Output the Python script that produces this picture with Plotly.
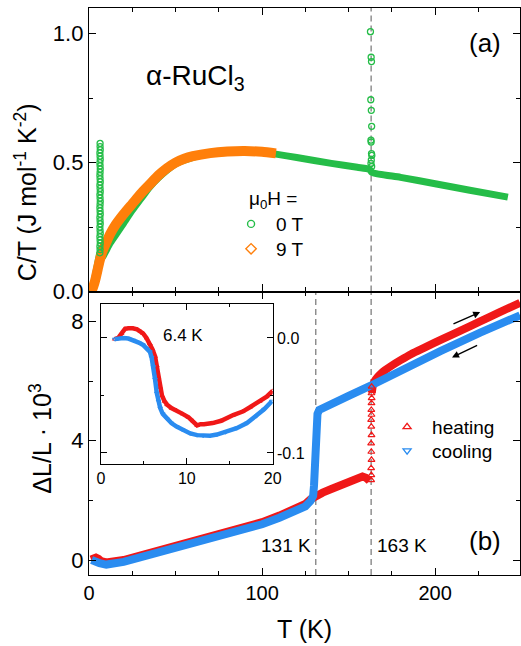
import plotly.graph_objects as go

# ---------------- data ----------------
# (a) C/T, 0 T (green) and 9 T (orange)
T_0T_low = [0.5, 1, 2, 3, 4, 5, 5.8, 6.2]
C_0T_low = [0.0, 0.005, 0.02, 0.04, 0.07, 0.10, 0.13, 0.15]
T_0T = [7.2, 8, 10, 12, 15, 20, 25, 30, 35, 40, 45, 50, 60, 70, 80, 90, 100, 108,
        120, 140, 155, 162, 163.5, 180, 200, 220, 242]
C_0T = [0.13, 0.135, 0.16, 0.185, 0.215, 0.265, 0.315, 0.36, 0.405, 0.44, 0.47, 0.495,
        0.52, 0.535, 0.54, 0.543, 0.54, 0.533, 0.52, 0.497, 0.482, 0.474, 0.462, 0.443,
        0.418, 0.393, 0.366]
T_0T_spike = [6.3, 6.4, 6.3, 6.5, 6.4, 6.3, 6.5, 6.4, 6.3, 6.5, 6.4, 6.3, 6.5, 6.4, 6.3, 6.4, 6.5,
              6.4, 6.3, 6.5, 6.4, 6.3, 6.5, 6.4, 6.3, 6.4, 6.5, 6.4, 6.3, 6.5, 6.4, 6.3, 6.5, 6.4, 6.4]
C_0T_spike = [0.15, 0.1625, 0.175, 0.1875, 0.2, 0.2125, 0.225, 0.2375, 0.25, 0.2625, 0.275,
              0.2875, 0.3, 0.3125, 0.325, 0.3375, 0.35, 0.3625, 0.375, 0.3875, 0.4, 0.4125,
              0.425, 0.4375, 0.45, 0.4625, 0.475, 0.4875, 0.5, 0.5125, 0.525, 0.5375, 0.55,
              0.5625, 0.575]
T_0T_peak = [162.6, 163.0, 163.2, 162.8, 163.1, 163.3, 162.9, 163.0, 163.2, 163.4, 163.1, 162.9, 163.3]
C_0T_peak = [1.008, 0.909, 0.892, 0.744, 0.703, 0.641, 0.587, 0.580, 0.535, 0.528, 0.51, 0.497, 0.485]
T_9T = [0.8, 2, 3, 4, 5, 6, 7, 8, 10, 12, 15, 20, 25, 30, 35, 40, 45, 50, 55, 60, 70, 80, 90, 100, 108]
C_9T = [0.0, 0.01, 0.03, 0.055, 0.085, 0.115, 0.14, 0.16, 0.19, 0.22, 0.255, 0.3, 0.34, 0.38,
        0.415, 0.45, 0.478, 0.5, 0.515, 0.525, 0.537, 0.543, 0.545, 0.542, 0.536]

# (b) dL/L * 10^3, heating (red) and cooling (blue)
T_heat_1 = [1.2, 2.5, 4, 5.5, 7, 10, 15, 20, 30, 40, 50, 60, 70, 80, 90, 100, 110, 120,
            125, 128, 131, 135, 140, 145, 150, 155, 158, 160, 162]
L_heat_1 = [0.02, 0.07, 0.08, 0.04, -0.04, -0.08, -0.06, 0.0, 0.16, 0.31, 0.48, 0.64, 0.8,
            0.96, 1.11, 1.27, 1.49, 1.72, 1.88, 2.04, 2.15, 2.26, 2.38, 2.5, 2.62, 2.74, 2.8, 2.76, 2.66]
T_heat_jump = [163.0, 163.1, 163.0, 163.2, 163.1, 163.0, 163.2, 163.1, 163.0, 163.2, 163.1,
               163.2, 163.3, 163.2, 163.3]
L_heat_jump = [2.68, 2.85, 3.08, 3.36, 3.63, 3.91, 4.19, 4.47, 4.70, 4.87, 5.03, 5.26, 5.43, 5.59, 5.81]
T_heat_2 = [163.4, 164.0, 165.0, 166.5, 168.5, 171, 175, 180, 186, 195, 205, 215, 226, 237, 249]
L_heat_2 = [5.6, 5.85, 6.0, 6.12, 6.24, 6.36, 6.52, 6.7, 6.9, 7.15, 7.43, 7.7, 8.0, 8.3, 8.62]
T_cool = [1.5, 3, 6, 10, 15, 20, 30, 40, 50, 60, 70, 80, 90, 100, 110, 120, 125, 128, 129.5,
          130, 130.5, 131, 131.5, 132, 133, 140, 150, 163, 180, 203, 226, 249]
L_cool = [0.0, -0.05, -0.1, -0.15, -0.13, -0.06, 0.1, 0.25, 0.42, 0.58, 0.74, 0.9, 1.05, 1.2,
          1.42, 1.65, 1.8, 1.98, 2.15, 2.5, 3.2, 4.0, 4.6, 4.9, 5.03, 5.25, 5.5, 5.85, 6.35,
          7.0, 7.62, 8.2]

# inset
Ti_heat = [1.6, 2.0, 2.4, 2.8, 3.2, 3.7, 4.2, 4.6, 4.9, 5.3, 5.7, 6.0, 6.3, 6.5, 6.7, 6.9, 7.1,
           7.4, 7.7, 8.2, 8.8, 9.5, 10.2, 10.7, 11.2, 11.6, 12.0, 13.0, 14.0, 15.4, 16.5, 17.4,
           18.5, 19.3, 20.0]
Li_heat = [-0.001, 0.0, 0.004, 0.008, 0.0085, 0.0085, 0.0075, 0.006, 0.004, 0.0, -0.005, -0.010,
           -0.016, -0.024, -0.034, -0.043, -0.050, -0.055, -0.058, -0.061, -0.063, -0.066, -0.069,
           -0.072, -0.076, -0.075, -0.075, -0.074, -0.072, -0.067, -0.064, -0.060, -0.055, -0.051,
           -0.046]
Ti_cool = [1.6, 2.6, 3.2, 3.8, 4.4, 4.9, 5.3, 5.7, 5.9, 6.1, 6.3, 6.5, 6.7, 6.9, 7.2, 7.65, 8.2,
           8.8, 9.5, 10.4, 11.2, 11.9, 12.7, 13.5, 14.5, 15.8, 17.0, 18.1, 19.0, 19.9]
Li_cool = [-0.001, 0.0, -0.0005, -0.002, -0.004, -0.006, -0.009, -0.012, -0.017, -0.025, -0.036,
           -0.048, -0.055, -0.061, -0.066, -0.070, -0.074, -0.077, -0.080, -0.083, -0.0845,
           -0.085, -0.085, -0.084, -0.082, -0.0785, -0.074, -0.068, -0.062, -0.055]

T_transitions_a = [163]
T_transitions_b = [131, 163]
T_transition_inset = [6.4]
transition_labels_b = ["131 K", "163 K"]
inset_tickvals = [-0.1, 0.0]
inset_ticktext = ["-0.1", "0.0"]

# ---------------- style ----------------
GREEN = "#25bd48"
ORANGE = "#ff7f0a"
RED = "#f01818"
BLUE = "#2a8cf0"
FONT = "Liberation Sans, Arial, sans-serif"

fig = go.Figure()

# top panel
fig.add_trace(go.Scatter(x=T_0T_low, y=C_0T_low, mode="lines", line=dict(color=GREEN, width=7),
                         xaxis="x", yaxis="y", showlegend=False))
fig.add_trace(go.Scatter(x=T_0T, y=C_0T, mode="lines", line=dict(color=GREEN, width=7, shape="spline", smoothing=0.6),
                         xaxis="x", yaxis="y", showlegend=False))
fig.add_trace(go.Scatter(x=T_9T, y=C_9T, mode="lines", line=dict(color=ORANGE, width=10, shape="spline", smoothing=0.6),
                         xaxis="x", yaxis="y", showlegend=False))
fig.add_trace(go.Scatter(x=T_0T_spike, y=C_0T_spike, mode="markers",
                         marker=dict(symbol="circle-open", size=6, color=GREEN, line=dict(width=1.3)),
                         xaxis="x", yaxis="y", showlegend=False))
fig.add_trace(go.Scatter(x=T_0T_peak, y=C_0T_peak, mode="markers",
                         marker=dict(symbol="circle-open", size=6, color=GREEN, line=dict(width=1.3)),
                         xaxis="x", yaxis="y", showlegend=False))
fig.add_trace(go.Scatter(x=[None], y=[None], mode="markers", name="0 T",
                         marker=dict(symbol="circle-open", size=7, color=GREEN, line=dict(width=1.4)),
                         xaxis="x", yaxis="y", legend="legend"))
fig.add_trace(go.Scatter(x=[None], y=[None], mode="markers", name="9 T",
                         marker=dict(symbol="diamond-open", size=8, color=ORANGE, line=dict(width=1.4)),
                         xaxis="x", yaxis="y", legend="legend2"))

# bottom panel
fig.add_trace(go.Scatter(x=T_heat_1, y=L_heat_1, mode="lines", line=dict(color=RED, width=8),
                         xaxis="x2", yaxis="y2", showlegend=False))
fig.add_trace(go.Scatter(x=T_heat_2, y=L_heat_2, mode="lines", line=dict(color=RED, width=8, shape="spline", smoothing=0.8),
                         xaxis="x2", yaxis="y2", showlegend=False))
fig.add_trace(go.Scatter(x=T_cool, y=L_cool, mode="lines", line=dict(color=BLUE, width=8),
                         xaxis="x2", yaxis="y2", showlegend=False))
fig.add_trace(go.Scatter(x=T_heat_jump, y=L_heat_jump, mode="markers",
                         marker=dict(symbol="triangle-up-open", size=6, color=RED, line=dict(width=1.2)),
                         xaxis="x2", yaxis="y2", showlegend=False))
fig.add_trace(go.Scatter(x=[None], y=[None], mode="markers", name="heating",
                         marker=dict(symbol="triangle-up-open", size=7, color=RED, line=dict(width=1.3)),
                         xaxis="x2", yaxis="y2", legend="legend3"))
fig.add_trace(go.Scatter(x=[None], y=[None], mode="markers", name="cooling",
                         marker=dict(symbol="triangle-down-open", size=7, color=BLUE, line=dict(width=1.3)),
                         xaxis="x2", yaxis="y2", legend="legend4"))

# inset
fig.add_trace(go.Scatter(x=Ti_heat, y=Li_heat, mode="lines+markers", line=dict(color=RED, width=4.5),
                         marker=dict(symbol="triangle-up-open", size=4, color=RED),
                         xaxis="x3", yaxis="y3", showlegend=False))
fig.add_trace(go.Scatter(x=Ti_cool, y=Li_cool, mode="lines+markers", line=dict(color=BLUE, width=4.5),
                         marker=dict(symbol="triangle-down-open", size=4, color=BLUE),
                         xaxis="x3", yaxis="y3", showlegend=False))

# ---------------- axes ----------------
common = dict(showline=True, linecolor="black", linewidth=1.3, mirror="ticks", ticks="inside",
              tickcolor="black", tickwidth=1.2, showgrid=False, zeroline=False, automargin=False)
minor_common = dict(ticks="inside", tickcolor="black", tickwidth=1.1, showgrid=False)

fig.update_layout(
    xaxis=dict(**common, domain=[0, 1], anchor="y", range=[0, 249], tick0=0, dtick=100,
               ticklen=7, showticklabels=False,
               minor=dict(**minor_common, dtick=25, ticklen=4)),
    yaxis=dict(**common, domain=[0.5, 1], anchor="x", range=[0, 1.1], tick0=0, dtick=0.5,
               tickformat=".1f", ticklen=7, tickfont=dict(size=22),
               minor=dict(**minor_common, dtick=0.25, ticklen=4)),
    xaxis2=dict(**common, domain=[0, 1], anchor="y2", range=[0, 249], tick0=0, dtick=100,
                ticklen=7, tickfont=dict(size=20),
                minor=dict(**minor_common, dtick=25, ticklen=4)),
    yaxis2=dict(**common, domain=[0, 0.5], anchor="x2", range=[-0.5, 9.0], tick0=0, dtick=4,
                ticklen=7, tickfont=dict(size=22),
                minor=dict(**minor_common, dtick=2, ticklen=4)),
    xaxis3=dict(**common, domain=[0.0278, 0.4262], anchor="y3", range=[0, 20], tick0=0, dtick=10,
                ticklen=6, tickfont=dict(size=16),
                minor=dict(**minor_common, dtick=5, ticklen=3)),
    yaxis3=dict(**common, domain=[0.1958, 0.478], anchor="x3", range=[-0.1096, 0.0296],
                side="right", tickvals=inset_tickvals, ticktext=inset_ticktext,
                ticklen=6, tickfont=dict(size=16),
                minor=dict(**minor_common, dtick=0.05, ticklen=3)),
)

# dashed lines
DASH = dict(color="#888888", width=1.4, dash="6px,4px")
shapes = []
for t in T_transitions_a:
    shapes.append(dict(type="line", xref="x", yref="y domain", x0=t, x1=t, y0=0, y1=1,
                       line=DASH, layer="below"))
for t in T_transitions_b:
    shapes.append(dict(type="line", xref="x2", yref="y2 domain", x0=t, x1=t, y0=0, y1=1,
                       line=DASH, layer="below"))
for t in T_transition_inset:
    shapes.append(dict(type="line", xref="x3", yref="y3 domain", x0=t, x1=t, y0=0, y1=1,
                       line=DASH, layer="below"))
fig.update_layout(shapes=shapes)

ann = []
# axis titles
ann.append(dict(text="C/T (J mol<sup>-1</sup> K<sup>-2</sup>)", xref="paper", yref="paper",
                x=-0.146, y=0.675, textangle=-90, showarrow=False, font=dict(size=25),
                xanchor="center", yanchor="middle"))
ann.append(dict(text="ΔL/L · 10<sup>3</sup>", xref="paper", yref="paper",
                x=-0.112, y=0.24, textangle=-90, showarrow=False, font=dict(size=25),
                xanchor="center", yanchor="middle"))
ann.append(dict(text="T (K)", xref="paper", yref="paper", x=0.5, y=-0.095, showarrow=False,
                font=dict(size=25), xanchor="center", yanchor="middle"))
# panel labels
ann.append(dict(text="(a)", xref="paper", yref="paper", x=0.918, y=0.939, showarrow=False,
                font=dict(size=26), xanchor="center", yanchor="middle"))
ann.append(dict(text="(b)", xref="paper", yref="paper", x=0.918, y=0.060, showarrow=False,
                font=dict(size=26), xanchor="center", yanchor="middle"))
ann.append(dict(text="α-RuCl<sub>3</sub>", xref="paper", yref="paper", x=0.248, y=0.878,
                showarrow=False, font=dict(size=28), xanchor="center", yanchor="middle"))
ann.append(dict(text="μ<sub>0</sub>H =", xref="paper", yref="paper", x=0.367, y=0.662,
                showarrow=False, font=dict(size=19), xanchor="left", yanchor="middle"))
# transition labels
ann.append(dict(text=transition_labels_b[0], x=T_transitions_b[0], y=0.5, xref="x2", yref="y2",
                xanchor="right", yanchor="middle", xshift=-3, showarrow=False, font=dict(size=19)))
ann.append(dict(text=transition_labels_b[1], x=T_transitions_b[1], y=0.5, xref="x2", yref="y2",
                xanchor="left", yanchor="middle", xshift=4, showarrow=False, font=dict(size=19)))
ann.append(dict(text="6.4 K", x=T_transition_inset[0], y=0.0026, xref="x3", yref="y3",
                xanchor="left", yanchor="middle", xshift=5, showarrow=False, font=dict(size=17)))
# arrows (heating / cooling direction)
ann.append(dict(x=226, y=8.31, ax=209.7, ay=7.89, xref="x2", yref="y2", axref="x2", ayref="y2",
                text="", showarrow=True, arrowhead=2, arrowsize=1, arrowwidth=1.4, arrowcolor="black"))
ann.append(dict(x=209.7, y=6.79, ax=225.1, ay=7.22, xref="x2", yref="y2", axref="x2", ayref="y2",
                text="", showarrow=True, arrowhead=2, arrowsize=1, arrowwidth=1.4, arrowcolor="black"))
fig.update_layout(annotations=ann)

leg = dict(xanchor="left", yanchor="middle", bgcolor="rgba(0,0,0,0)",
           font=dict(size=19), itemwidth=40, tracegroupgap=0)
fig.update_layout(
    width=521, height=646,
    margin=dict(l=89, r=1, t=8, b=71, autoexpand=False),
    paper_bgcolor="white", plot_bgcolor="white",
    font=dict(family=FONT, size=19, color="black"),
    legend=dict(**leg, x=0.318, y=0.619),
    legend2=dict(**leg, x=0.318, y=0.575),
    legend3=dict(**leg, x=0.680, y=0.261),
    legend4=dict(**leg, x=0.680, y=0.219),
)

fig.write_html("out.html")
